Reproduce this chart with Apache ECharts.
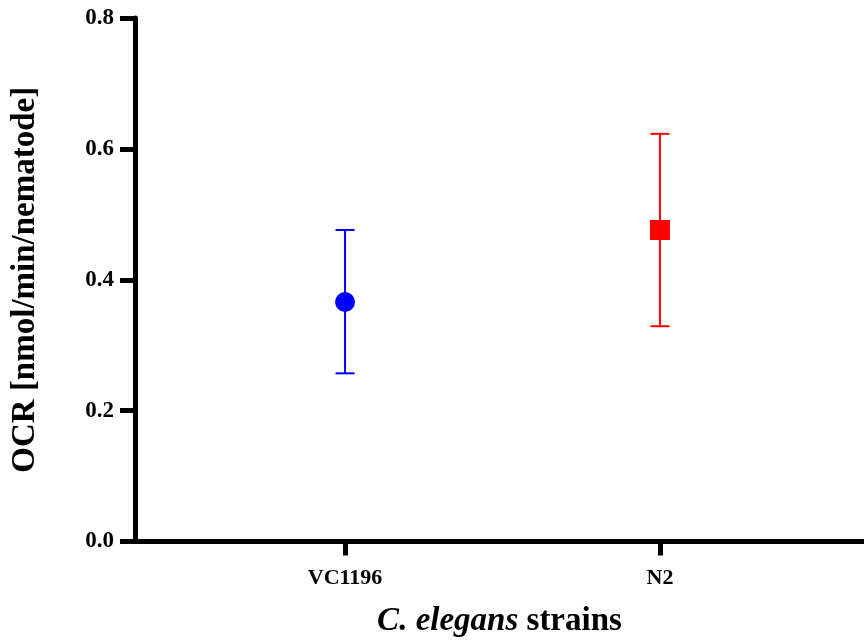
<!DOCTYPE html>
<html>
<head>
<meta charset="utf-8">
<script src="https://cdn.jsdelivr.net/npm/echarts@6/dist/echarts.min.js"></script>
<style>
  html, body { margin: 0; padding: 0; background: #fff; }
  #chart { width: 864px; height: 641px; }
</style>
</head>
<body>
<div id="chart"></div>
<script>
// strains on the x axis
const strains = ['VC1196', 'N2']
// OCR mean and error limits per strain
const means = [0.366, 0.476]
const upper = [0.476, 0.623]
const lower = [0.257, 0.329]
// y ticks
const yTicks = [0, 0.2, 0.4, 0.6, 0.8]

const chart = echarts.init(document.getElementById('chart'))
const font = 'Liberation Serif, Times New Roman, serif'
const colors = ['#0000ff', '#ff0000']
const symbols = ['circle', 'rect']

// error bars drawn through the axes
const errorData = strains.map((s, i) => [i, lower[i], upper[i]])

const renderError = (params, api) => {
  const i = api.value(0)
  const lo = api.coord([i, api.value(1)])
  const hi = api.coord([i, api.value(2)])
  const half = 9.5
  const style = { stroke: colors[i], lineWidth: 2 }
  return {
    type: 'group',
    children: [
      { type: 'line', shape: { x1: hi[0], y1: hi[1], x2: lo[0], y2: lo[1] }, style },
      { type: 'line', shape: { x1: hi[0] - half, y1: hi[1], x2: hi[0] + half, y2: hi[1] }, style },
      { type: 'line', shape: { x1: lo[0] - half, y1: lo[1], x2: lo[0] + half, y2: lo[1] }, style }
    ]
  }
}

const option = {
  backgroundColor: '#fff',
  animation: false,
  grid: { left: 135, right: 0, top: 18, bottom: 99.5, outerBoundsMode: 'none', containLabel: false },
  xAxis: {
    type: 'value',
    min: -0.667,
    max: 1.648,
    splitLine: { show: false },
    axisLine: { onZero: false, lineStyle: { color: '#000', width: 5 } },
    axisTick: { show: true, customValues: [0, 1], length: 14, lineStyle: { color: '#000', width: 5 } },
    axisLabel: {
      customValues: [0, 1],
      formatter: v => strains[Math.round(v)],
      margin: 26,
      color: '#000',
      fontFamily: font,
      fontWeight: 'bold',
      fontSize: 22
    },
    name: '{i|C. elegans }{b|strains}',
    nameLocation: 'middle',
    nameGap: 63,
    nameTextStyle: {
      rich: {
        i: { fontFamily: font, fontStyle: 'italic', fontWeight: 'bold', fontSize: 33, color: '#000' },
        b: { fontFamily: font, fontWeight: 'bold', fontSize: 33, color: '#000' }
      }
    }
  },
  yAxis: {
    type: 'value',
    min: yTicks[0],
    max: yTicks[yTicks.length - 1],
    interval: 0.2,
    splitLine: { show: false },
    axisLine: { show: true, onZero: false, lineStyle: { color: '#000', width: 5 } },
    axisTick: { show: true, length: 15, lineStyle: { color: '#000', width: 5 } },
    axisLabel: {
      formatter: v => v.toFixed(1),
      margin: 21,
      color: '#000',
      fontFamily: font,
      fontWeight: 'bold',
      fontSize: 23
    },
    name: 'OCR [nmol/min/nematode]',
    nameLocation: 'middle',
    nameGap: 93,
    nameTextStyle: { fontFamily: font, fontWeight: 'bold', fontSize: 33, color: '#000' }
  },
  series: [
    {
      type: 'custom',
      renderItem: renderError,
      data: errorData,
      z: 2
    },
    {
      type: 'scatter',
      data: strains.map((s, i) => ({
        value: [i, means[i]],
        symbol: symbols[i],
        symbolSize: 20,
        itemStyle: { color: colors[i], opacity: 1 }
      })),
      z: 3
    }
  ]
}

chart.setOption(option)
</script>
</body>
</html>
